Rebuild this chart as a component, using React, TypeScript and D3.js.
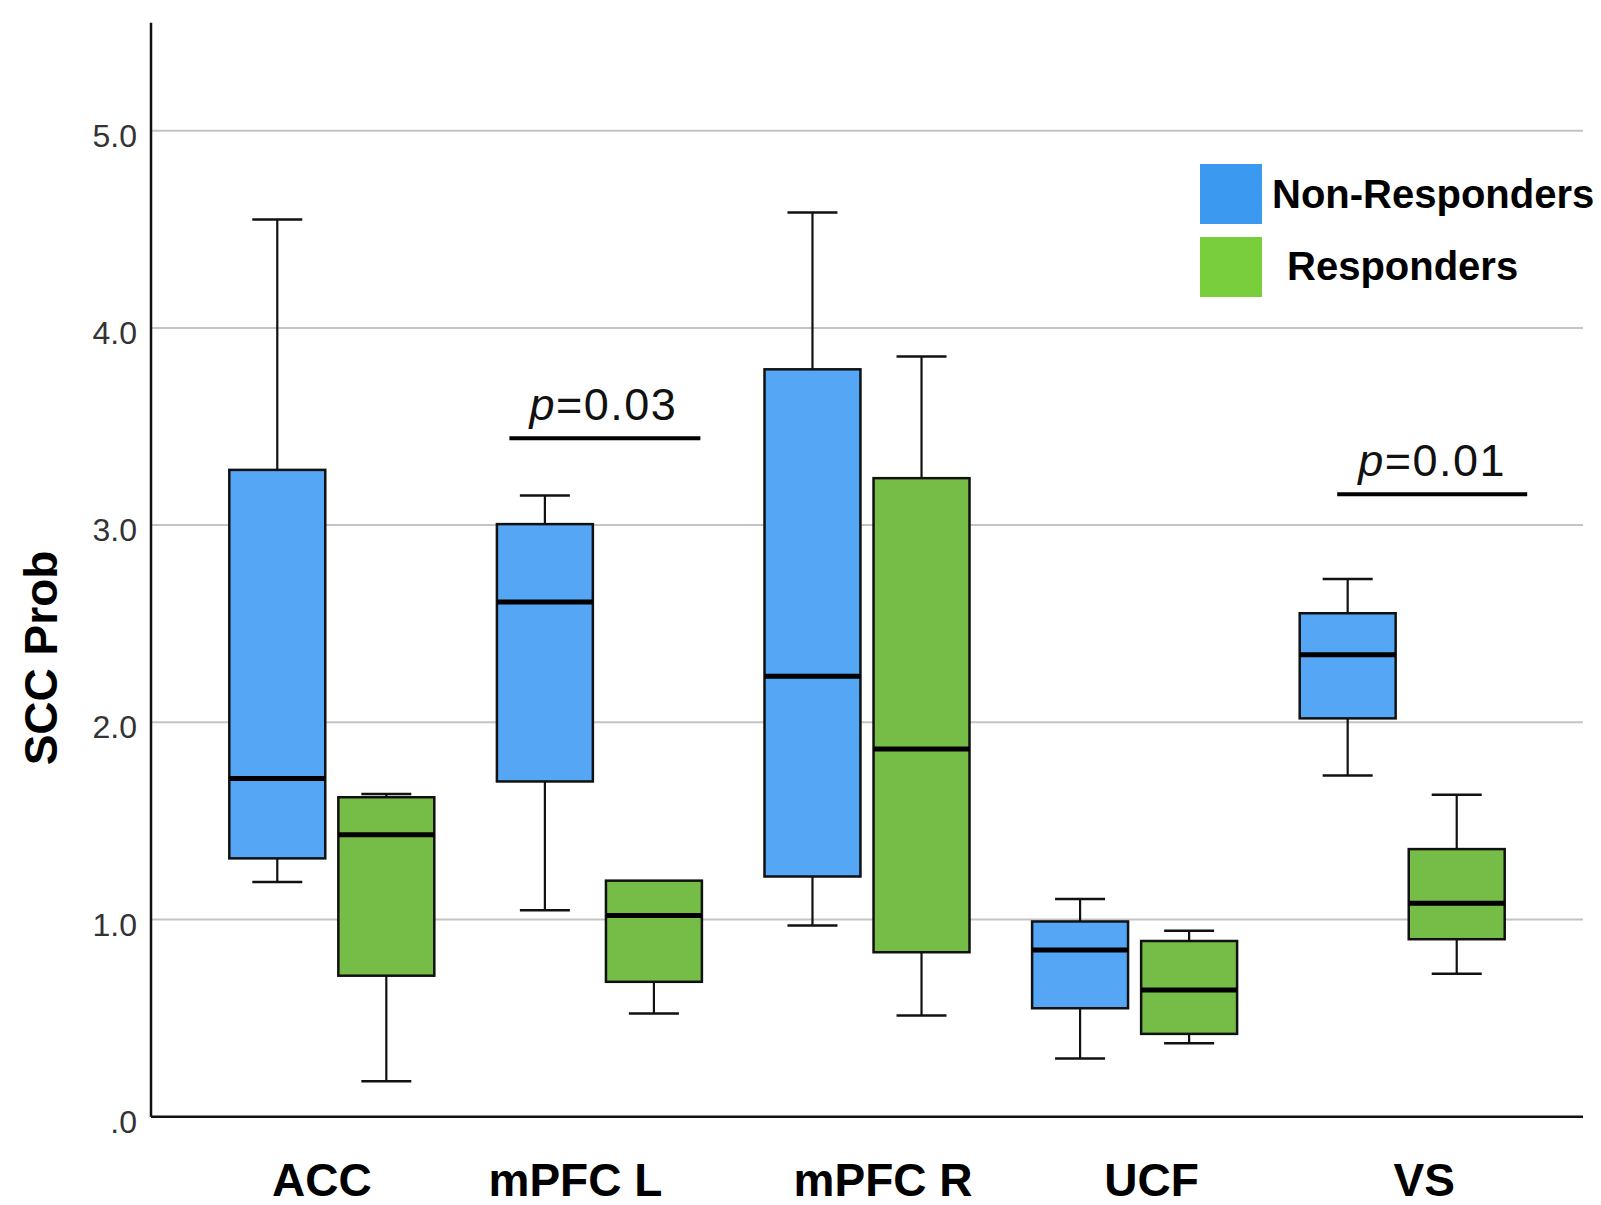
import React from "react";
import * as d3 from "d3";

const categories = ["ACC", "mPFC L", "mPFC R", "UCF", "VS"];
const groups = ["Non-Responders", "Responders"];

// [min, q1, median, q3, max]
const nonResponders: number[][] = [
  [1.19, 1.31, 1.715, 3.28, 4.55],
  [1.047, 1.70, 2.61, 3.005, 3.15],
  [0.969, 1.218, 2.233, 3.79, 4.585],
  [0.295, 0.55, 0.845, 0.99, 1.104],
  [1.73, 2.02, 2.342, 2.553, 2.727],
];
const responders: number[][] = [
  [0.18, 0.715, 1.43, 1.62, 1.636],
  [0.523, 0.684, 1.02, 1.197, 1.197],
  [0.513, 0.834, 1.865, 3.238, 3.855],
  [0.373, 0.42, 0.642, 0.891, 0.943],
  [0.725, 0.9, 1.083, 1.357, 1.632],
];

const yTicks = [0, 1, 2, 3, 4, 5];
const yTickLabels = [".0", "1.0", "2.0", "3.0", "4.0", "5.0"];

const annotations = [
  { category: "mPFC L", value: 3.44, label: "0.03" },
  { category: "VS", value: 3.157, label: "0.01" },
];

const yLabel = "SCC Prob";

const boxColors = ["#55A6F4", "#76BD48"];
const legendColors = ["#3B99F0", "#78CF3B"];

export default function App() {
  const W = 1601, H = 1205;
  const left = 151, right = 1583, bottom = 1116.7, top = 22.7;
  const y = d3.scaleLinear().domain([0, 5]).range([bottom, bottom - 5 * 197.2]);
  const x = d3.scaleBand<string>().domain(categories).range([198, 1536]).paddingInner(0).paddingOuter(0);
  const xSub = d3.scaleBand<string>().domain(groups).range([-102.5, 102.5]).paddingInner(0.12);
  const bw = xSub.bandwidth();
  const labelShift = [-10, -24, 16, 17, 22];
  const annShift: Record<string, [number, number, number]> = {
    "mPFC L": [-90, 101, -70],
    VS: [-65, 125, -44],
  };
  const font = "'Liberation Sans', Arial, Helvetica, sans-serif";
  const series = [nonResponders, responders];

  return (
    <svg width={W} height={H} style={{ position: "absolute", left: 0, top: 0, background: "#fff" }} fontFamily={font}>
      <rect x={0} y={0} width={W} height={H} fill="#fff" />
      {yTicks.filter((t) => t > 0).map((t) => (
        <line key={t} x1={left} x2={right} y1={y(t)} y2={y(t)} stroke="#c4c4c4" strokeWidth={2} />
      ))}
      {yTicks.map((t, i) => (
        <text key={t} x={137} y={y(t) + 16} textAnchor="end" fontSize={32} fill="#333">
          {yTickLabels[i]}
        </text>
      ))}
      {categories.map((c, ci) =>
        groups.map((g, gi) => {
          const d = series[gi][ci];
          const cx = (x(c) as number) + x.bandwidth() / 2 + (xSub(g) as number);
          const mid = cx + bw / 2;
          const [mn, q1, md, q3, mx] = d;
          return (
            <g key={c + g}>
              {mx > q3 && (
                <>
                  <line x1={mid} x2={mid} y1={y(q3)} y2={y(mx)} stroke="#111" strokeWidth={2.2} />
                  <line x1={mid - 25} x2={mid + 25} y1={y(mx)} y2={y(mx)} stroke="#111" strokeWidth={2.5} />
                </>
              )}
              <line x1={mid} x2={mid} y1={y(q1)} y2={y(mn)} stroke="#111" strokeWidth={2.2} />
              <line x1={mid - 25} x2={mid + 25} y1={y(mn)} y2={y(mn)} stroke="#111" strokeWidth={2.5} />
              <rect x={cx} y={y(q3)} width={bw} height={y(q1) - y(q3)} fill={boxColors[gi]} stroke="#111" strokeWidth={2.5} />
              <line x1={cx} x2={cx + bw} y1={y(md)} y2={y(md)} stroke="#000" strokeWidth={5} />
            </g>
          );
        })
      )}
      <line x1={left} x2={left} y1={top} y2={bottom} stroke="#111" strokeWidth={2.5} />
      <line x1={left} x2={right} y1={bottom} y2={bottom} stroke="#111" strokeWidth={2.5} />
      {categories.map((c, i) => (
        <text key={c} x={(x(c) as number) + x.bandwidth() / 2 + labelShift[i]} y={1196} textAnchor="middle"
          fontSize={46} fontWeight="bold" fill="#000">
          {c}
        </text>
      ))}
      <text transform={`translate(57, 658) rotate(-90)`} textAnchor="middle" fontSize={46} fontWeight="bold" fill="#000">
        {yLabel}
      </text>
      {annotations.map((a) => {
        const c = (x(a.category) as number) + x.bandwidth() / 2;
        const [l, r, t] = annShift[a.category];
        return (
          <g key={a.category}>
            <line x1={c + l} x2={c + r} y1={y(a.value)} y2={y(a.value)} stroke="#000" strokeWidth={4} />
            <text x={c + t} y={y(a.value) - 18} fontSize={45} fill="#111" letterSpacing={1.5}>
              <tspan fontStyle="italic">p</tspan>={a.label}
            </text>
          </g>
        );
      })}
      {groups.map((g, i) => (
        <g key={g}>
          <rect x={1200} y={164 + i * 73} width={62} height={60} fill={legendColors[i]} />
          <text x={i === 0 ? 1272 : 1287} y={208 + i * 72} fontSize={40} fontWeight="bold" fill="#000">
            {g}
          </text>
        </g>
      ))}
    </svg>
  );
}
